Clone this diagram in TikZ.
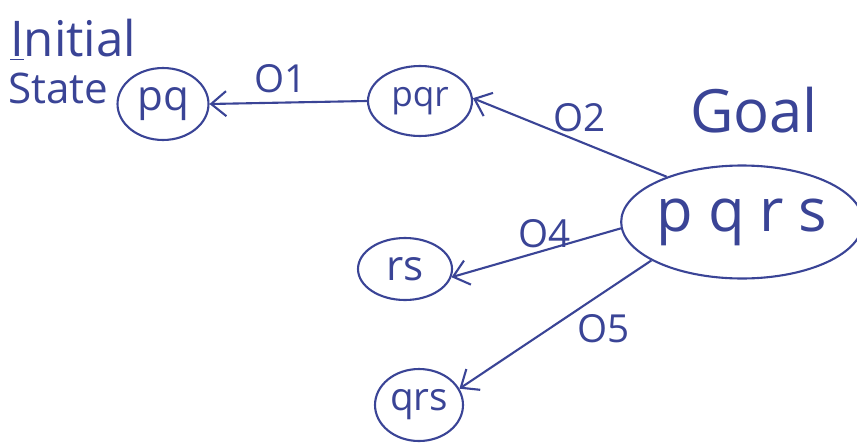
\documentclass[tikz,border=0pt]{standalone}
\usepackage{fontspec}
\setmainfont{Open Sans}
\usepackage{tikz}
\usetikzlibrary{arrows.meta,shapes.geometric}

\definecolor{ink}{RGB}{58,68,150}

\begin{document}
\begin{tikzpicture}[
    x=0.02cm, y=-0.02cm,
    state/.style={draw=ink, ellipse, line width=1.2pt, inner sep=0pt,
                  text=ink, font=\fontsize{24}{26}\selectfont},
    arrow/.style={-{Straight Barb[length=3mm,width=5mm]}, draw=ink, line width=1.2pt},
    lbl/.style={text=ink, font=\fontsize{22}{24}\selectfont, inner sep=1pt},
  ]
  \useasboundingbox (0,0) rectangle (857,446);

  % states
  \node[state, minimum width=1.82cm, minimum height=1.44cm] (pq) at (163,104) {pq};
  \node[state, minimum width=2.08cm, minimum height=1.40cm, font=\fontsize{20}{22}\selectfont] (pqr) at (420,101) {pqr};
  \node[state, minimum width=4.58cm, minimum height=2.26cm, font=\fontsize{34}{36}\selectfont\addfontfeature{LetterSpace=25}] (pqrs) at (742,222) {pqrs};
  \node[state, minimum width=1.88cm, minimum height=1.24cm] (rs) at (405,269) {rs};
  \node[state, minimum width=1.76cm, minimum height=1.44cm, font=\fontsize{22}{24}\selectfont] (qrs) at (419,405) {qrs};

  % side texts
  \node[lbl, font=\fontsize{28}{30}\selectfont, anchor=west] (init) at (8,40) {\underline{I}nitial};
  \node[lbl, font=\fontsize{24}{26}\selectfont, anchor=west] (state) at (6,88) {State};
  \node[lbl, font=\fontsize{34}{36}\selectfont] (goal) at (754,110) {Goal};

  % operators
  \draw[arrow] (pqr.west) -- (pq.east) node[lbl, pos=0.55, above=4pt] (o1) {O1};
  \draw[arrow] (pqrs.149) -- (pqr.3) node[lbl, pos=0.45, above=4pt] (o2) {O2};
  \draw[arrow] (pqrs.183) -- (rs.-10) node[lbl, pos=0.45, above=0pt] (o4) {O4};
  \draw[arrow] (pqrs.203) -- (qrs.22) node[lbl, pos=0.4, below right=0pt] (o5) {O5};
\end{tikzpicture}
\end{document}
